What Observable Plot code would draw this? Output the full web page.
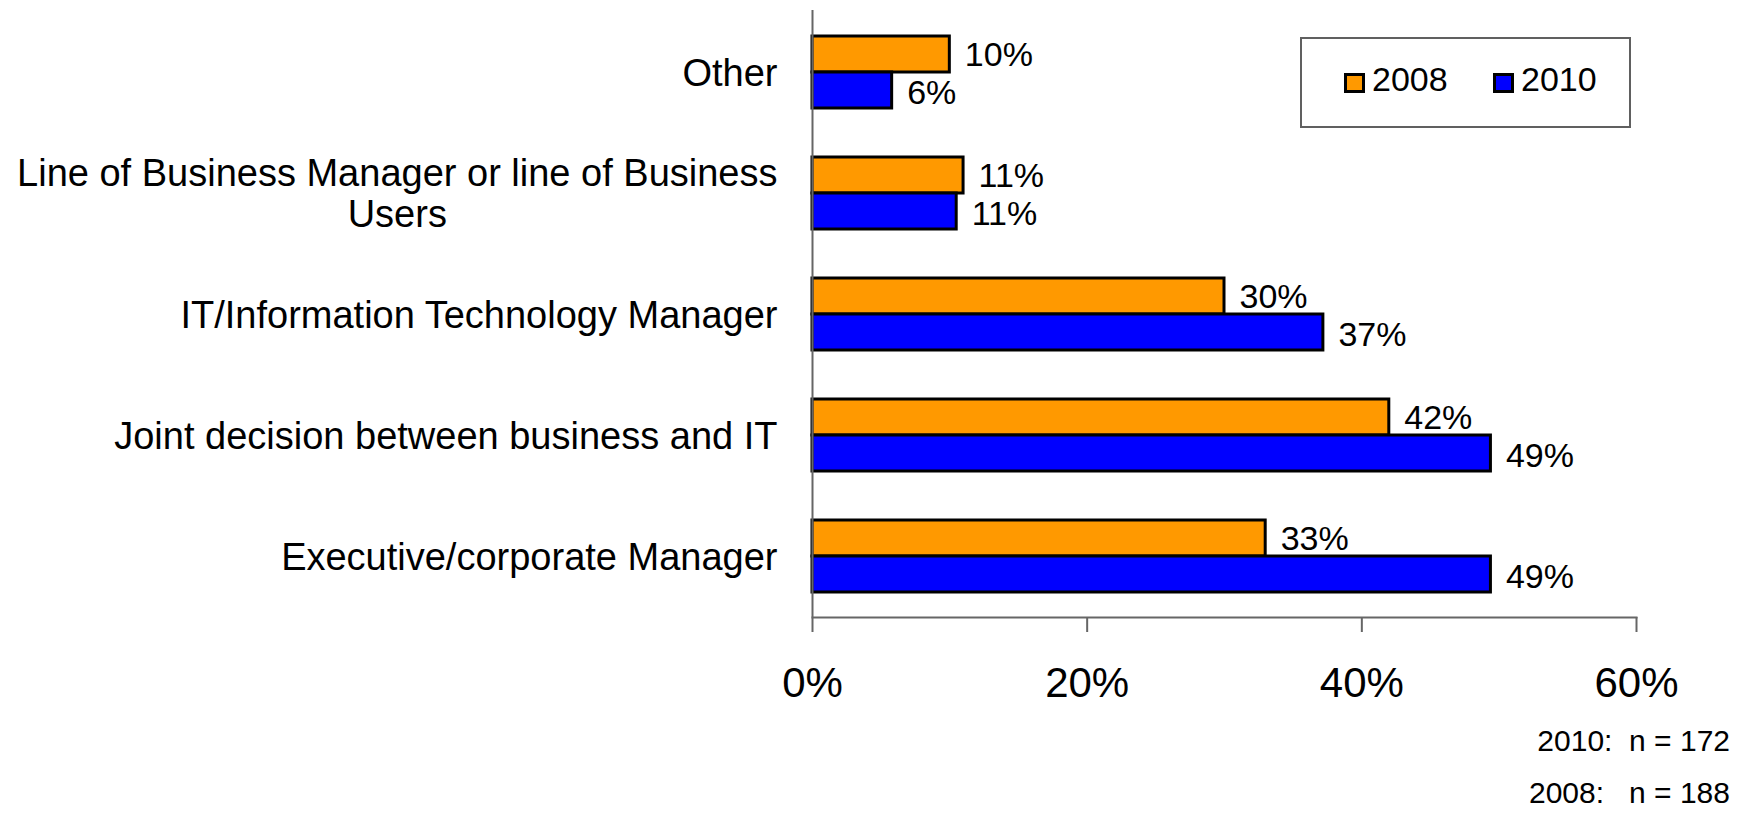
<!DOCTYPE html>
<html>
<head>
<meta charset="utf-8">
<script src="https://cdn.jsdelivr.net/npm/d3@7"></script>
<script src="https://cdn.jsdelivr.net/npm/@observablehq/plot@0.6"></script>
<style>
  html, body { margin: 0; padding: 0; background: #fff; }
  body { width: 1749px; height: 819px; position: relative; overflow: hidden;
         font-family: "Liberation Sans", Arial, sans-serif; color: #000; }
  #legend { position: absolute; left: 1300px; top: 37px; width: 327px; height: 87px;
            border: 2px solid #606060; background: #fff; }
  .sw { position: absolute; top: 34px; width: 15px; height: 14px; border: 3px solid #000; }
  .lt { position: absolute; top: 20px; font-size: 34px; line-height: 40px; }
  #note { font-size: 30px; line-height: 52px; text-align: right; padding-right: 19px;
          white-space: pre; margin-top: -5px; }
</style>
</head>
<body>
<div id="chart"></div>
<div id="note"></div>
<div id="legend"></div>
<script>
// ---- data ----
const categories = [
  "Other",
  "Line of Business Manager or line of Business Users",
  "IT/Information Technology Manager",
  "Joint decision between business and IT",
  "Executive/corporate Manager"
];
const categoryLabels = [
  "Other",
  "Line of Business Manager or line of Business\nUsers",
  "IT/Information Technology Manager",
  "Joint decision between business and IT",
  "Executive/corporate Manager"
];
const years = ["2008", "2010"];
const values2008 = [10, 11, 30, 42, 33];
const values2010 = [5.8, 10.5, 37.2, 49.4, 49.4];
const xTicks = [0, 20, 40, 60];
const yearColors = ["#FF9900", "#0000FF"];
const noteLines = ["2010:  n = 172", "2008:   n = 188"];

const rows2008 = categories.map((c, i) => ({category: c, year: years[0], value: values2008[i]}));
const rows2010 = categories.map((c, i) => ({category: c, year: years[1], value: values2010[i]}));
const fmt = d => Math.round(d.value) + "%";

const chart = Plot.plot({
  width: 1749,
  height: 720,
  marginLeft: 812,
  marginRight: 113,
  marginTop: 10,
  marginBottom: 103,
  style: {fontFamily: "'Liberation Sans', Arial, sans-serif", color: "#000", background: "#fff", overflow: "visible"},
  x: {domain: [0, 60]},
  y: {domain: categories, paddingInner: 0.4069, paddingOuter: 0.2035},
  color: {domain: years, range: yearColors},
  marks: [
    Plot.barX(rows2008, {x: "value", y: "category", fill: "year", stroke: "#000", strokeWidth: 3, insetBottom: 36}),
    Plot.barX(rows2010, {x: "value", y: "category", fill: "year", stroke: "#000", strokeWidth: 3, insetTop: 36}),
    Plot.text(rows2008, {x: "value", y: "category", text: fmt, dx: 15, dy: -17, textAnchor: "start", fontSize: 34, fill: "#000"}),
    Plot.text(rows2010, {x: "value", y: "category", text: fmt, dx: 15, dy: 21, textAnchor: "start", fontSize: 34, fill: "#000"}),
    Plot.axisX({ticks: xTicks, tickFormat: d => d + "%", tickSize: 15, tickPadding: 35, fontSize: 42, stroke: "#666", strokeWidth: 2, fill: "#000", label: null}),
    Plot.axisY({tickSize: 0, tickPadding: 35, fontSize: 38, lineHeight: 1.08, fill: "#000",
                tickFormat: c => categoryLabels[categories.indexOf(c)], label: null}),
    Plot.ruleX([0], {stroke: "#666", strokeWidth: 2}),
    Plot.frame({anchor: "bottom", stroke: "#666", strokeWidth: 2})
  ]
});
document.getElementById("chart").appendChild(chart);

// center the wrapped second line under the first (as in the reference)
chart.querySelectorAll("text").forEach(t => {
  const spans = t.querySelectorAll("tspan");
  if (spans.length > 1) {
    const w1 = spans[0].getComputedTextLength();
    for (let k = 1; k < spans.length; k++) {
      const w = spans[k].getComputedTextLength();
      spans[k].setAttribute("x", -(w1 - w) / 2);
    }
  }
});

// legend
const legend = document.getElementById("legend");
const swLeft = [42, 191];
years.forEach((y, i) => {
  const sw = document.createElement("div");
  sw.className = "sw";
  sw.style.left = swLeft[i] + "px";
  sw.style.background = yearColors[i];
  legend.appendChild(sw);
  const lt = document.createElement("div");
  lt.className = "lt";
  lt.style.left = (swLeft[i] + 28) + "px";
  lt.textContent = y;
  legend.appendChild(lt);
});

// footnote
document.getElementById("note").innerHTML = noteLines.map(s => "<div>" + s + "</div>").join("");
</script>
</body>
</html>
